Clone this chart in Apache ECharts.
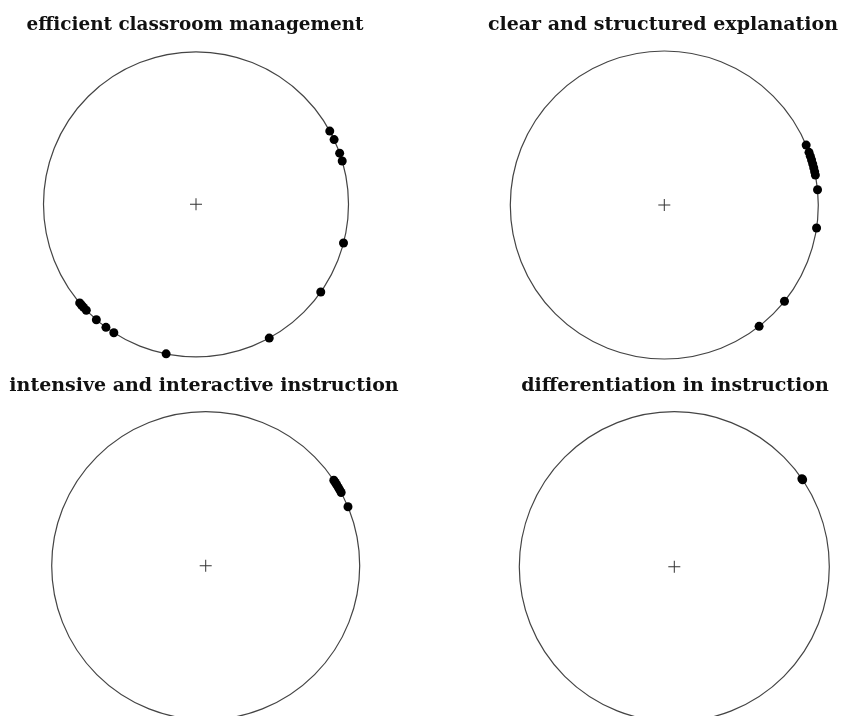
<!DOCTYPE html>
<html><head><meta charset="utf-8">
<script src="https://cdn.jsdelivr.net/npm/echarts@6/dist/echarts.min.js"></script>
<style>html,body{margin:0;padding:0;background:#fff}#c{width:842px;height:716px}</style>
</head><body><div id="c"></div>
<script>
// Angles (degrees, 0 = east, counter-clockwise) of observations on each circle
const titles = [
  'efficient classroom management',
  'clear and structured explanation',
  'intensive and interactive instruction',
  'differentiation in instruction'
];
const anglesManagement = [28.7, 25.1, 19.6, 16.5, -14.7, -35.1, -61.3, 258.7, 237.4, 233.8, 229.2, 224.0, 222.5, 221.3, 220.3];
const anglesExplanation = [22.9, 20.0, 18.5, 17.0, 15.5, 14.0, 12.5, 11.2, 5.7, -8.6, -38.7, -52.0];
const anglesInteractive = [33.7, 32.7, 31.7, 30.6, 29.5, 28.4, 22.5];
const anglesDifferentiation = [34.1, 34.6];
const allAngles = [anglesManagement, anglesExplanation, anglesInteractive, anglesDifferentiation];

const layout = [
  {cx: 196, cy: 204.3, r: 152.5, tx: 190, ty: 11, fs: 18.4},
  {cx: 664.3, cy: 205, r: 154, tx: 658, ty: 11, fs: 19},
  {cx: 205.7, cy: 565.7, r: 154, tx: 199, ty: 372, fs: 19},
  {cx: 674.3, cy: 566.7, r: 155, tx: 670, ty: 372, fs: 19}
];

const chart = echarts.init(document.getElementById('c'), null, {renderer: 'canvas'});
const polar = [], angleAxis = [], radiusAxis = [], series = [], title = [];
const plus = 'path://M0,5.5H12V6.5H0Z M5.5,0H6.5V12H5.5Z';
layout.forEach((L, i) => {
  polar.push({center: [L.cx, L.cy], radius: L.r});
  angleAxis.push({polarIndex: i, type: 'value', min: 0, max: 360, startAngle: 0, clockwise: false,
    axisLine: {show: true, lineStyle: {color: '#444', width: 1.2}},
    axisTick: {show: false}, axisLabel: {show: false}, splitLine: {show: false}});
  radiusAxis.push({polarIndex: i, type: 'value', min: 0, max: 1,
    axisLine: {show: false}, axisTick: {show: false}, axisLabel: {show: false}, splitLine: {show: false}});
  title.push({text: titles[i], left: L.tx, top: L.ty, textAlign: 'center',
    textStyle: {fontFamily: 'DejaVu Serif', fontWeight: 'bold', fontSize: L.fs, color: '#111'}});
  series.push({type: 'scatter', coordinateSystem: 'polar', polarIndex: i, symbolSize: 9,
    itemStyle: {color: '#000', opacity: 1}, silent: true,
    data: allAngles[i].map(a => [1, (a + 360) % 360])});
  series.push({type: 'scatter', coordinateSystem: 'polar', polarIndex: i, symbol: plus, symbolSize: [12, 12],
    itemStyle: {color: '#333', opacity: 1}, silent: true, data: [[0, 0]]});
});
chart.setOption({backgroundColor: '#fff', animation: false, title, polar, angleAxis, radiusAxis, series});
</script></body></html>
